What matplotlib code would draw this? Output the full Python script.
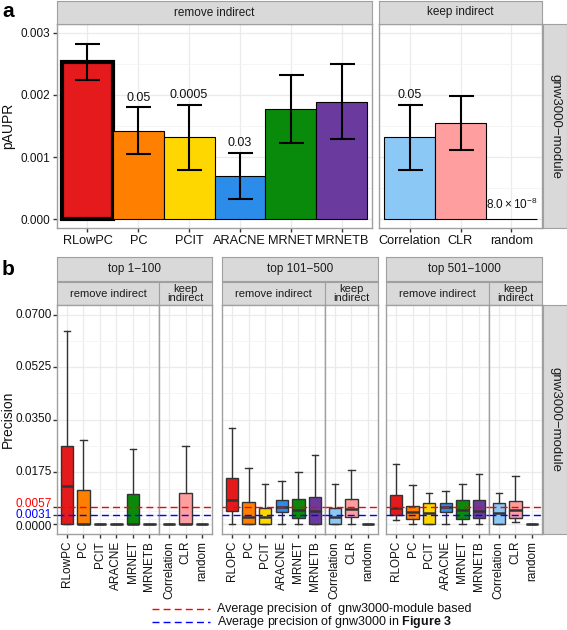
import matplotlib
matplotlib.use("Agg")
import matplotlib.pyplot as plt
from matplotlib.lines import Line2D
from matplotlib.transforms import blended_transform_factory, ScaledTranslation

plt.rcParams["font.family"] = ["Liberation Sans", "DejaVu Sans"]
plt.rcParams["mathtext.fontset"] = "custom"
plt.rcParams["mathtext.rm"] = "Liberation Sans"
plt.rcParams["mathtext.bf"] = "Liberation Sans:bold"
plt.rcParams["mathtext.it"] = "Liberation Sans:italic"

# ---------------- data ----------------
methods_remove = ["RLowPC", "PC", "PCIT", "ARACNE", "MRNET", "MRNETB"]
methods_keep = ["Correlation", "CLR", "random"]
colors_remove = ["#E41A1C", "#FF7F00", "#FFD700", "#2B8CEA", "#0A8A0A", "#6A3A9E"]
colors_keep = ["#8CC8F5", "#FF9E9E", "#111111"]

paupr_remove = [0.00253, 0.001425, 0.00132, 0.00070, 0.00177, 0.00189]
paupr_lo_remove = [0.00224, 0.00105, 0.00079, 0.00032, 0.00122, 0.00129]
paupr_hi_remove = [0.00282, 0.00180, 0.00184, 0.00107, 0.00232, 0.00250]
paupr_keep = [0.00132, 0.00155, 8.0e-8]
paupr_lo_keep = [0.00079, 0.00112, None]
paupr_hi_keep = [0.00184, 0.00198, None]
pvalue_labels = {"PC": "0.05", "PCIT": "0.0005", "ARACNE": "0.03",
                 "Correlation": "0.05", "random": r"$8.0\times10^{-8}$"}

windows = ["top 1\u2212100", "top 101\u2212500", "top 501\u22121000"]
remove_labels_b = [["RLowPC", "PC", "PCIT", "ARACNE", "MRNET", "MRNETB"],
                   ["RLOPC", "PC", "PCIT", "ARACNE", "MRNET", "MRNETB"],
                   ["RLOPC", "PC", "PCIT", "ARACNE", "MRNET", "MRNETB"]]
# (whislo, q1, median, q3, whishi) per method: remove (6) + keep (3)
box_top1_100 = [
    (0, 0, 0.0128, 0.0262, 0.0647),
    (0, 0, 0, 0.0114, 0.0281),
    (0, 0, 0, 0, 0),
    (0, 0, 0, 0, 0),
    (0, 0, 0, 0.0101, 0.0250),
    (0, 0, 0, 0, 0),
    (0, 0, 0, 0, 0),
    (0, 0, 0, 0.0105, 0.0262),
    (0, 0, 0, 0, 0),
]
box_top101_500 = [
    (0, 0.0045, 0.0080, 0.0155, 0.0323),
    (0, 0, 0.0025, 0.0075, 0.0186),
    (0, 0, 0.0025, 0.0052, 0.0133),
    (0, 0.0039, 0.0058, 0.0082, 0.0145),
    (0, 0.0021, 0.0047, 0.0084, 0.0175),
    (0, 0, 0.0043, 0.0091, 0.0230),
    (0, 0, 0.0025, 0.0052, 0.0133),
    (0, 0.0022, 0.0051, 0.0085, 0.0181),
    (0, 0, 0, 0, 0),
]
box_top501_1000 = [
    (0.0013, 0.0030, 0.0052, 0.0097, 0.0200),
    (0, 0.0017, 0.0041, 0.0061, 0.0130),
    (0, 0, 0.0036, 0.0072, 0.0103),
    (0, 0.0039, 0.0056, 0.0072, 0.0111),
    (0, 0.0017, 0.0047, 0.0079, 0.0133),
    (0, 0.0019, 0.0045, 0.0079, 0.0166),
    (0, 0, 0.0036, 0.0072, 0.0103),
    (0.0008, 0.0019, 0.0047, 0.0077, 0.0161),
    (0, 0, 0, 0, 0),
]
box_data = [box_top1_100, box_top101_500, box_top501_1000]
avg_module = 0.0057
avg_gnw3000 = 0.0031

# ---------------- layout helpers ----------------
W, H = 567, 630
fig = plt.figure(figsize=(W / 100, H / 100), dpi=100)
BORDER = "#A0A0A0"
STRIPFILL = "#D9D9D9"
GRID = "#EBEBEB"
GRIDMINOR = "#F4F4F4"
TXT = "#111111"


def ax_at(x0, y0, x1, y1):
    return fig.add_axes([x0 / W, 1 - y1 / H, (x1 - x0) / W, (y1 - y0) / H])


def strip(x0, y0, x1, y1, text, rot=0, fs=8.5):
    a = ax_at(x0, y0, x1, y1)
    a.set_xticks([]); a.set_yticks([])
    a.set_facecolor(STRIPFILL)
    for s in a.spines.values():
        s.set_color(BORDER); s.set_linewidth(0.8)
    a.text(0.5, 0.5, text, ha="center", va="center", rotation=rot,
           fontsize=fs, color="#1A1A1A", transform=a.transAxes, linespacing=0.9)
    return a


def style_panel(a):
    a.set_facecolor("white")
    for s in a.spines.values():
        s.set_color(BORDER); s.set_linewidth(1.0)
    a.set_axisbelow(True)
    a.grid(True, which="major", color=GRID, lw=0.9)
    a.grid(True, which="minor", axis="y", color=GRIDMINOR, lw=0.6)
    a.tick_params(which="minor", length=0)
    a.tick_params(which="major", length=3, width=1, color="#333333",
                  labelcolor=TXT, pad=2)

# ---------------- panel a ----------------
ylo_a, yhi_a = -0.000145, 0.003145
axR = ax_at(57, 24, 372, 228)
axK = ax_at(379, 24, 542, 228)
for a, meths, vals, lo, hi, cols in [
        (axR, methods_remove, paupr_remove, paupr_lo_remove, paupr_hi_remove, colors_remove),
        (axK, methods_keep, paupr_keep, paupr_lo_keep, paupr_hi_keep, colors_keep)]:
    style_panel(a)
    n = len(meths)
    xs = list(range(1, n + 1))
    lws = [3.0 if m == "RLowPC" else 0.8 for m in meths]
    a.bar(xs, vals, width=1.0, color=cols, edgecolor="black", linewidth=lws, zorder=2)
    for x, v, l, h, m in zip(xs, vals, lo, hi, meths):
        if l is not None:
            a.errorbar([x], [v], yerr=[[v - l], [h - v]], fmt="none", ecolor="black",
                       elinewidth=1.5, capsize=9, capthick=1.5, zorder=3)
        if m in pvalue_labels:
            if h is not None:
                ytext, fs = h + 0.00006, 9
            else:
                ytext, fs = v + 0.00012, 8.5
            a.text(x, ytext, pvalue_labels[m], ha="center", va="bottom",
                   fontsize=fs, color=TXT, zorder=6)
    a.set_xlim(0.4, n + 0.6)
    a.set_ylim(ylo_a, yhi_a)
    a.set_xticks(xs)
    a.set_xticklabels(meths, fontsize=9.2)
    a.set_yticks([0.0005, 0.0015, 0.0025], minor=True)
axR.set_yticks([0, 0.001, 0.002, 0.003])
axR.set_yticklabels(["0.000", "0.001", "0.002", "0.003"], fontsize=8.5)
axK.set_yticks([0, 0.001, 0.002, 0.003])
axK.tick_params(axis="y", length=0, labelleft=False)

strip(57, 1, 372, 24, "remove indirect")
strip(379, 1, 542, 24, "keep indirect")
strip(543, 24, 567, 228, "gnw3000\u2212module", rot=270, fs=9.5)

fig.text(8 / W, 1 - 126 / H, "pAUPR", fontsize=10, color=TXT, rotation=90,
         ha="center", va="center")
fig.text(2 / W, 1 - 2 / H, "a", fontsize=15, fontweight="bold", va="top", ha="left")

# ---------------- panel b ----------------
ylo_b, yhi_b = -0.00335, 0.07335
cols_px = [(57, 212), (222, 378), (386, 542)]
ytick_vals = [0.0, 0.0031, 0.0057, 0.0175, 0.0350, 0.0525, 0.0700]
ytick_lbls = ["0.0000", "0.0031", "0.0057", "0.0175", "0.0350", "0.0525", "0.0700"]
ytick_cols = [TXT, "#0000FF", "#FF0000", TXT, TXT, TXT, TXT]
ytick_nudge_px = [3, 0.5, -2.5, 0, 0, 0, 0]
yminor = [0.00155, 0.0044, 0.0116, 0.02625, 0.04375, 0.06125]
for ci, (x0, x1) in enumerate(cols_px):
    xd = x0 + (x1 - x0) * 6.2 / 9.4
    strip(x0, 257, x1, 281, windows[ci], fs=8.5)
    strip(x0, 282, xd, 305, "remove indirect", fs=8)
    strip(xd, 282, x1, 305, "keep\nindirect", fs=8)
    sub = [(x0, xd, remove_labels_b[ci], colors_remove, box_data[ci][:6]),
           (xd, x1, methods_keep, colors_keep[:2] + ["#333333"], box_data[ci][6:])]
    for si, (a0, a1, labels, cols, stats_raw) in enumerate(sub):
        a = ax_at(a0, 305, a1, 534)
        style_panel(a)
        n = len(labels)
        xs = list(range(1, n + 1))
        stats = [dict(whislo=s[0], q1=s[1], med=s[2], q3=s[3], whishi=s[4], fliers=[])
                 for s in stats_raw]
        bp = a.bxp(stats, positions=xs, widths=0.75, capwidths=0.4, patch_artist=True,
                   showfliers=False,
                   boxprops=dict(edgecolor="#333333", linewidth=1.0),
                   medianprops=dict(color="#333333", linewidth=1.8),
                   whiskerprops=dict(color="#333333", linewidth=1.0),
                   capprops=dict(color="#333333", linewidth=1.0), manage_ticks=False)
        for patch, c in zip(bp["boxes"], cols):
            patch.set_facecolor(c)
            patch.set_zorder(2)
        a.axhline(avg_module, color="#FF0000", lw=1.0, ls=(0, (5, 3)), zorder=5)
        a.axhline(avg_gnw3000, color="#0000FF", lw=1.0, ls=(0, (5, 3)), zorder=5)
        a.set_xlim(0.4, n + 0.6)
        a.set_ylim(ylo_b, yhi_b)
        a.set_xticks(xs)
        a.set_xticklabels(labels, rotation=90, fontsize=8.5)
        a.set_yticks(ytick_vals)
        a.set_yticks(yminor, minor=True)
        if ci == 0 and si == 0:
            a.tick_params(axis="y", labelleft=False)
            tr = blended_transform_factory(a.transAxes, a.transData)
            for v, lbl, c, dy in zip(ytick_vals, ytick_lbls, ytick_cols, ytick_nudge_px):
                off = ScaledTranslation(-5 / 100, -dy / 100, fig.dpi_scale_trans)
                a.text(0, v, lbl, transform=tr + off, ha="right", va="center",
                       fontsize=8.5, color=c)
        else:
            a.tick_params(axis="y", length=0, labelleft=False)

strip(543, 305, 567, 534, "gnw3000\u2212module", rot=270, fs=9.5)
fig.text(8 / W, 1 - 419 / H, "Precision", fontsize=10, color=TXT, rotation=90,
         ha="center", va="center")
fig.text(2 / W, 1 - 260 / H, "b", fontsize=15, fontweight="bold", va="top", ha="left")

# ---------------- bottom legend ----------------
for yp, c, txt in [(609, "#FF0000", "Average precision of  gnw3000-module based"),
                   (622, "#0000FF", r"Average precision of gnw3000 in $\mathbf{Figure\ 3}$")]:
    fig.add_artist(Line2D([152 / W, 210 / W], [1 - yp / H, 1 - yp / H],
                          transform=fig.transFigure, color=c, lw=1.0, ls=(0, (5, 3))))
    fig.text(217 / W, 1 - yp / H, txt, fontsize=9, va="center", ha="left", color=TXT)

fig.savefig("out.png", dpi=100)
